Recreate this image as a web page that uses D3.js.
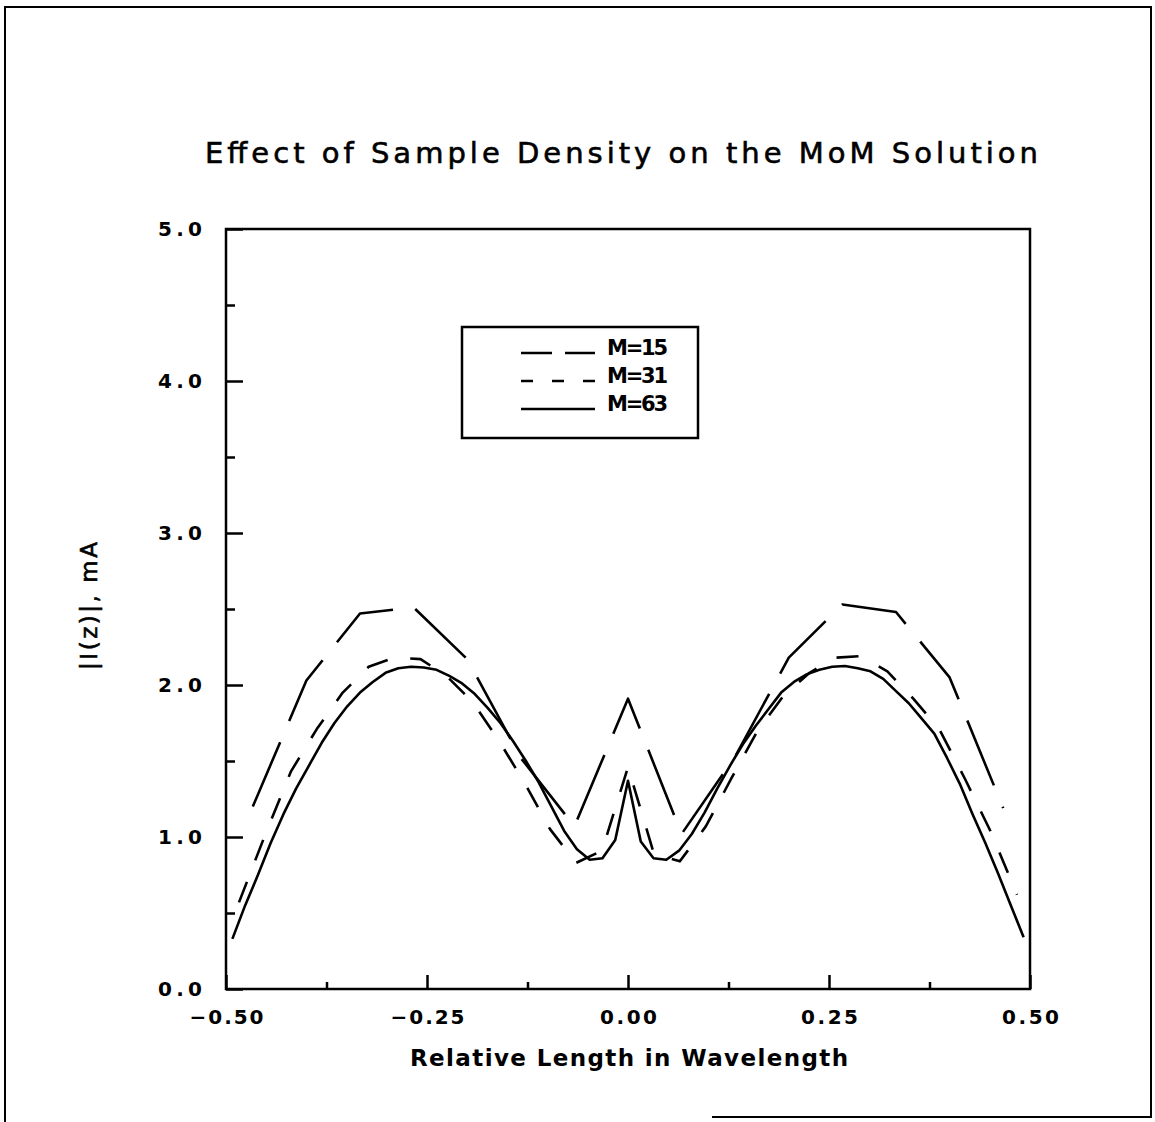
<!DOCTYPE html>
<html>
<head>
<meta charset="utf-8">
<script src="https://cdn.jsdelivr.net/npm/d3@7"></script>
<style>
  html, body { margin: 0; padding: 0; background: #fff; }
  svg { display: block; }
</style>
</head>
<body>
<script>
// |I(z)| in mA at each MoM sample point (left to right)
const currentM15 = [1.20, 2.03, 2.47, 2.51, 2.17, 1.52, 1.07, 1.91, 1.02, 1.53, 2.18, 2.53, 2.48, 2.05, 1.19];

const currentM31 = [0.57, 1.01, 1.43, 1.71, 1.95, 2.12, 2.18, 2.17, 2.06, 1.89, 1.64, 1.36, 1.05, 0.83, 0.91,
  1.46,
  0.89, 0.84, 1.07, 1.39, 1.70, 1.93, 2.08, 2.18, 2.19, 2.09, 1.91, 1.71, 1.38, 1.03, 0.62];

const currentM63Left = [0.33, 0.55, 0.75, 0.96, 1.15, 1.32, 1.47, 1.62, 1.75, 1.86, 1.95, 2.02, 2.08, 2.11, 2.12, 2.115,
  2.10, 2.06, 2.01, 1.94, 1.85, 1.75, 1.63, 1.50, 1.36, 1.20, 1.04, 0.92, 0.85, 0.86, 0.98];
const currentM63Centre = [1.37];
const currentM63Right = [0.97, 0.86, 0.85, 0.91, 1.02, 1.16, 1.32, 1.47, 1.61, 1.73, 1.84, 1.95, 2.02, 2.07, 2.10, 2.12,
  2.125, 2.11, 2.09, 2.04, 1.96, 1.88, 1.78, 1.68, 1.52, 1.35, 1.15, 0.96, 0.76, 0.55, 0.34];

const xMajorTicks = [-0.5, -0.25, 0, 0.25, 0.5];
const xMinorTicks = [-0.375, -0.125, 0.125, 0.375];
const yMajorTicks = [0, 1, 2, 3, 4, 5];
const yMinorTicks = [0.5, 1.5, 2.5, 3.5, 4.5];

const legendLabels = ['M=15', 'M=31', 'M=63'];

// samples sit at z = k/M, k = -(M-1)/2 .. (M-1)/2
const toPoints = (vals) => {
  const M = vals.length;
  return vals.map((v, i) => [(i - (M - 1) / 2) / M, v]);
};

const series = [
  { label: legendLabels[0], pts: toPoints(currentM15), dash: '70 23', legendDash: '31 13' },
  { label: legendLabels[1], pts: toPoints(currentM31), dash: '22 23', legendDash: '12 19' },
  { label: legendLabels[2], pts: toPoints(currentM63Left.concat(currentM63Centre, currentM63Right)), dash: null, legendDash: null }
];

const W = 1155, H = 1122;
const FONT = '"DejaVu Sans", "Liberation Sans", sans-serif';

const svg = d3.select('body')
  .append('svg')
  .attr('width', W)
  .attr('height', H);

// page frame (photocopy border)
svg.append('path')
  .attr('d', 'M5,1122 V7 H1151 V1117 H712')
  .attr('fill', 'none')
  .attr('stroke', '#000')
  .attr('stroke-width', 2);

const xScale = d3.scaleLinear().domain([-0.5, 0.5]).range([226, 1030]);
const yScale = d3.scaleLinear().domain([0, 5]).range([989, 229]);

// title
svg.append('text')
  .attr('x', 205)
  .attr('y', 163)
  .attr('textLength', 833)
  .attr('lengthAdjust', 'spacing')
  .attr('font-family', FONT)
  .attr('font-size', 29)
  .attr('stroke', '#000')
  .attr('stroke-width', 0.6)
  .text('Effect of Sample Density on the MoM Solution');

// axes
const styleAxis = (g) => {
  g.select('.domain').remove();
  g.selectAll('line').attr('stroke', '#000').attr('stroke-width', 2.5);
};

svg.append('g')
  .attr('transform', 'translate(0,989)')
  .call(d3.axisBottom(xScale).tickValues(xMinorTicks).tickSize(-7).tickFormat(''))
  .call(styleAxis);

const xAxis = svg.append('g')
  .attr('transform', 'translate(0,989)')
  .call(d3.axisBottom(xScale).tickValues(xMajorTicks).tickSize(-14).tickFormat(d3.format('.2f')))
  .call(styleAxis);

xAxis.selectAll('text')
  .attr('y', 35)
  .attr('dy', 0)
  .attr('fill', '#000')
  .attr('font-family', FONT)
  .attr('font-weight', 'bold')
  .attr('font-size', 20)
  .text(d => d3.format('.2f')(d).replace('-', '\u2212'))
  .attr('textLength', d => d < 0 ? 74 : 57)
  .attr('lengthAdjust', 'spacing');

svg.append('g')
  .attr('transform', 'translate(226,0)')
  .call(d3.axisLeft(yScale).tickValues(yMinorTicks).tickSize(-9).tickFormat(''))
  .call(styleAxis);

const yAxis = svg.append('g')
  .attr('transform', 'translate(226,0)')
  .call(d3.axisLeft(yScale).tickValues(yMajorTicks).tickSize(-17).tickFormat(d3.format('.1f')))
  .call(styleAxis);

yAxis.selectAll('text')
  .attr('x', -24)
  .attr('fill', '#000')
  .attr('font-family', FONT)
  .attr('font-weight', 'bold')
  .attr('font-size', 20)
  .attr('textLength', 44)
  .attr('lengthAdjust', 'spacing');

// plot box
svg.append('rect')
  .attr('x', xScale(-0.5))
  .attr('y', yScale(5))
  .attr('width', xScale(0.5) - xScale(-0.5))
  .attr('height', yScale(0) - yScale(5))
  .attr('fill', 'none')
  .attr('stroke', '#000')
  .attr('stroke-width', 2.5);

// axis titles
svg.append('text')
  .attr('x', 410)
  .attr('y', 1066)
  .attr('textLength', 438)
  .attr('lengthAdjust', 'spacing')
  .attr('font-family', FONT)
  .attr('font-weight', 'bold')
  .attr('font-size', 23)
  .text('Relative Length in Wavelength');

svg.append('text')
  .attr('transform', 'translate(97,606) rotate(-90)')
  .attr('text-anchor', 'middle')
  .attr('textLength', 128)
  .attr('lengthAdjust', 'spacing')
  .attr('font-family', FONT)
  .attr('font-size', 23)
  .attr('stroke', '#000')
  .attr('stroke-width', 0.6)
  .text('|I(z)|, mA');

// curves
const line = d3.line()
  .x(d => xScale(d[0]))
  .y(d => yScale(d[1]));

svg.append('g')
  .selectAll('path')
  .data(series)
  .join('path')
  .attr('d', d => line(d.pts))
  .attr('fill', 'none')
  .attr('stroke', '#000')
  .attr('stroke-width', 2.6)
  .attr('stroke-linejoin', 'round')
  .attr('stroke-dasharray', d => d.dash);

// legend
const legend = svg.append('g');

legend.append('rect')
  .attr('x', 462)
  .attr('y', 327)
  .attr('width', 236)
  .attr('height', 111)
  .attr('fill', '#fff')
  .attr('stroke', '#000')
  .attr('stroke-width', 2.5);

const legendRow = d3.scalePoint().domain(legendLabels).range([353, 409]);

legend.selectAll('line')
  .data(series)
  .join('line')
  .attr('x1', 521)
  .attr('x2', 595)
  .attr('y1', d => legendRow(d.label))
  .attr('y2', d => legendRow(d.label))
  .attr('stroke', '#000')
  .attr('stroke-width', 2.5)
  .attr('stroke-dasharray', d => d.legendDash);

legend.selectAll('text')
  .data(series)
  .join('text')
  .attr('x', 607)
  .attr('y', d => legendRow(d.label) + 2)
  .attr('textLength', 61)
  .attr('lengthAdjust', 'spacing')
  .attr('font-family', FONT)
  .attr('font-weight', 'bold')
  .attr('font-size', 21)
  .text(d => d.label);
</script>
</body>
</html>
